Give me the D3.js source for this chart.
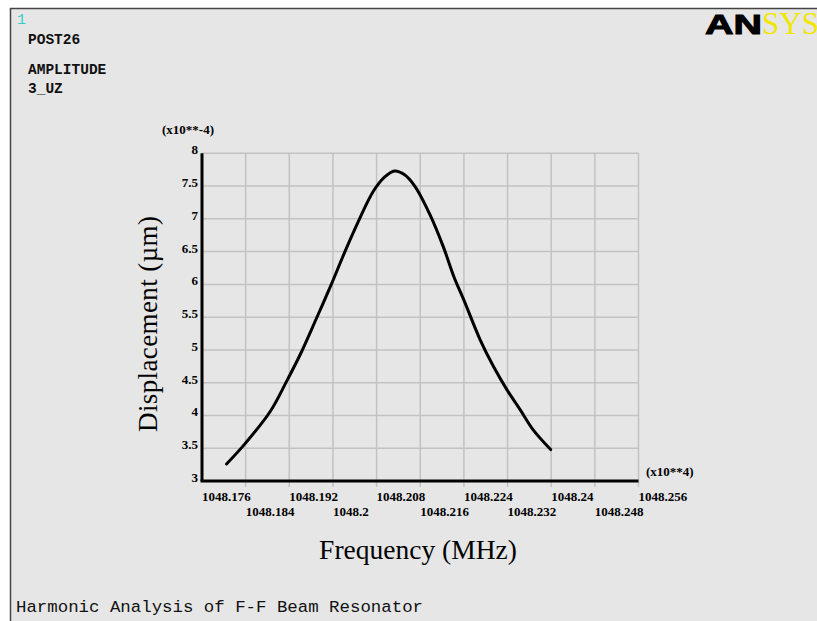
<!DOCTYPE html>
<html lang="en">
<head>
  <meta charset="UTF-8">
  <title>POST26 Amplitude 3_UZ</title>
  <script src="https://d3js.org/d3.v7.min.js"></script>
  <style>
    body { margin: 0; background: #fff; overflow: hidden; }
    svg { display: block; }
  </style>
</head>
<body>
  <svg width="817" height="621"></svg>
  <script>
  // Frequency (x10**4 MHz) and amplitude (x10**-4)
  const freq = [1048.1805, 1048.1839, 1048.1885, 1048.1915, 1048.1940, 1048.1967,
                1048.1998, 1048.2022, 1048.2046, 1048.2074, 1048.2095, 1048.2113,
                1048.2130, 1048.2150, 1048.2178, 1048.2202, 1048.2222, 1048.2240,
                1048.2270, 1048.2294, 1048.2319, 1048.2343, 1048.2367, 1048.2399];
  const amp  = [3.26, 3.57, 4.06, 4.52, 4.93, 5.43,
                6.02, 6.50, 6.95, 7.42, 7.64, 7.73,
                7.68, 7.50, 7.06, 6.58, 6.11, 5.76,
                5.15, 4.75, 4.39, 4.09, 3.78, 3.48];

  const xTicks = [1048.176, 1048.184, 1048.192, 1048.2, 1048.208, 1048.216,
                  1048.224, 1048.232, 1048.24, 1048.248, 1048.256];
  const yTicks = [3, 3.5, 4, 4.5, 5, 5.5, 6, 6.5, 7, 7.5, 8];

  const svg = d3.select("svg");
  const W = 817, H = 621;
  const plotL = 202, plotR = 638.5, plotT = 153.3, plotB = 481;

  // Window background and frame
  svg.append("rect").attr("x", 10).attr("y", 8).attr("width", W - 10).attr("height", H - 8)
     .attr("fill", "#e6e6e6");
  svg.append("line").attr("x1", 10.5).attr("x2", 10.5).attr("y1", 8).attr("y2", H)
     .attr("stroke", "#444").attr("stroke-width", 1.5);
  svg.append("line").attr("x1", 10).attr("x2", W).attr("y1", 8.5).attr("y2", 8.5)
     .attr("stroke", "#444").attr("stroke-width", 1.5);

  const x = d3.scaleLinear().domain([1048.176, 1048.256]).range([plotL, plotR]);
  const y = d3.scaleLinear().domain([3, 8]).range([plotB, plotT]);

  // Grid
  svg.append("g").selectAll("line").data(yTicks.slice(1)).join("line")
     .attr("x1", plotL).attr("x2", plotR)
     .attr("y1", d => y(d)).attr("y2", d => y(d))
     .attr("stroke", "#c2c2c2").attr("stroke-width", 1.5);
  svg.append("g").selectAll("line").data(xTicks.slice(1)).join("line")
     .attr("x1", d => x(d)).attr("x2", d => x(d))
     .attr("y1", plotT).attr("y2", plotB + 6)
     .attr("stroke", "#c2c2c2").attr("stroke-width", 1.5);

  // Axes lines
  svg.append("line").attr("x1", plotL).attr("x2", plotL).attr("y1", plotT).attr("y2", plotB)
     .attr("stroke", "#000").attr("stroke-width", 3);
  svg.append("line").attr("x1", plotL - 1.5).attr("x2", plotR).attr("y1", plotB).attr("y2", plotB)
     .attr("stroke", "#000").attr("stroke-width", 3);

  const serif = "'Liberation Serif', 'Times New Roman', serif";

  // Y tick labels
  svg.append("g").selectAll("text").data(yTicks).join("text")
     .attr("x", plotL - 4).attr("y", d => y(d) + 1)
     .attr("text-anchor", "end")
     .attr("font-family", serif).attr("font-weight", "bold").attr("font-size", 13)
     .text(d => d);

  // X tick labels, alternating rows
  svg.append("g").selectAll("text").data(xTicks).join("text")
     .attr("x", d => x(d)).attr("y", (d, i) => i % 2 === 0 ? 501 : 516)
     .attr("text-anchor", "start")
     .attr("font-family", serif).attr("font-weight", "bold").attr("font-size", 13)
     .text(d => d);

  // Scale multipliers
  svg.append("text").attr("x", 188).attr("y", 134).attr("text-anchor", "middle")
     .attr("font-family", serif).attr("font-weight", "bold").attr("font-size", 13)
     .text("(x10**-4)");
  svg.append("text").attr("x", 646).attr("y", 476)
     .attr("font-family", serif).attr("font-weight", "bold").attr("font-size", 13)
     .text("(x10**4)");

  // Curve
  const pts = freq.map((f, i) => [f, amp[i]]);
  svg.append("path").datum(pts)
     .attr("fill", "none").attr("stroke", "#000").attr("stroke-width", 3)
     .attr("stroke-linecap", "round")
     .attr("d", d3.line().x(d => x(d[0])).y(d => y(d[1])).curve(d3.curveCatmullRom));

  // Axis titles
  svg.append("text").attr("x", 418).attr("y", 559).attr("text-anchor", "middle")
     .attr("font-family", serif).attr("font-size", 27.5)
     .text("Frequency (MHz)");
  svg.append("text")
     .attr("transform", "translate(157,324) rotate(-90)")
     .attr("text-anchor", "middle")
     .attr("font-family", serif).attr("font-size", 27)
     .attr("textLength", 216).attr("lengthAdjust", "spacing")
     .text("Displacement (\u00b5m)");

  // Header text
  const mono = "'Liberation Mono', 'DejaVu Sans Mono', monospace";
  svg.append("text").attr("x", 17).attr("y", 24)
     .attr("font-family", mono).attr("font-size", 15).attr("fill", "#33cccc")
     .text("1");
  const header = ["POST26", "AMPLITUDE", "3_UZ"];
  const headerY = [44, 74, 93];
  svg.append("g").selectAll("text").data(header).join("text")
     .attr("x", 28).attr("y", (d, i) => headerY[i])
     .attr("font-family", mono).attr("font-weight", "bold").attr("font-size", 14.5)
     .attr("fill", "#111")
     .text(d => d);

  svg.append("text").attr("x", 16).attr("y", 612)
     .attr("font-family", mono).attr("font-size", 17.4).attr("fill", "#111")
     .text("Harmonic Analysis of F-F Beam Resonator");

  // ANSYS logo (cut off at the right edge, as in the original window)
  svg.append("text").attr("x", 705).attr("y", 34)
     .attr("font-family", "'Liberation Sans', Arial, sans-serif").attr("font-weight", "bold")
     .attr("font-size", 28).attr("textLength", 57).attr("lengthAdjust", "spacingAndGlyphs")
     .attr("fill", "#000").attr("stroke", "#000").attr("stroke-width", 1).text("AN");
  svg.append("text").attr("x", 762).attr("y", 34)
     .attr("font-family", serif)
     .attr("font-size", 31).attr("fill", "#f0e600").text("SYS");
  </script>
</body>
</html>
